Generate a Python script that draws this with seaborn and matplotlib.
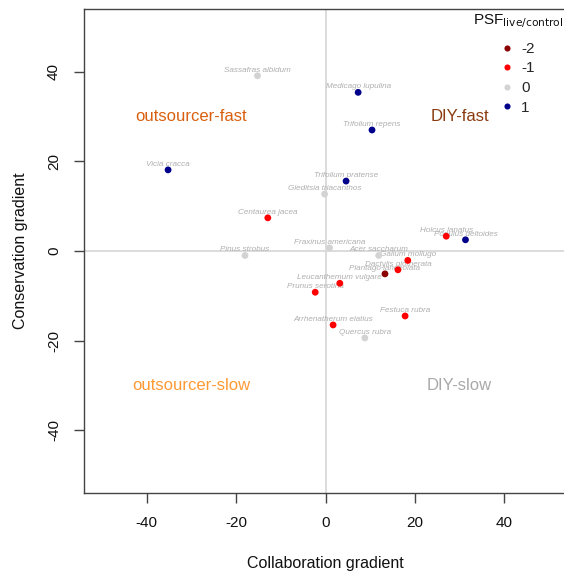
import matplotlib
matplotlib.use("Agg")
import matplotlib.pyplot as plt
import seaborn as sns
import pandas as pd

species = ["Sassafras albidum", "Medicago lupulina", "Trifolium repens", "Vicia cracca",
           "Trifolium pratense", "Gleditsia triacanthos", "Centaurea jacea", "Fraxinus americana",
           "Pinus strobus", "Holcus lanatus", "Populus deltoides", "Acer saccharum",
           "Galium mollugo", "Dactylis glomerata", "Plantago lanceolata", "Leucanthemum vulgare",
           "Prunus serotina", "Festuca rubra", "Arrhenatherum elatius", "Quercus rubra"]
collab = [-15.2, 7.3, 10.4, -35.2, 4.6, -0.2, -12.9, 0.9, -18.0, 27.0, 31.3, 11.9,
          18.4, 16.2, 13.3, 3.2, -2.3, 17.8, 1.7, 8.8]
conserv = [39.1, 35.4, 27.0, 18.1, 15.6, 12.7, 7.4, 0.7, -1.0, 3.3, 2.5, -1.0,
           -2.1, -4.2, -5.1, -7.2, -9.2, -14.5, -16.5, -19.4]
psf = ["0", "1", "1", "1", "1", "0", "-1", "0", "0", "-1", "1", "0",
       "-1", "-1", "-2", "-1", "-1", "-1", "-1", "0"]

psf_levels = ["-2", "-1", "0", "1"]
psf_colors = ["#8B0000", "#FF0000", "#D3D3D3", "#00008B"]

quad_labels = ["outsourcer-fast", "DIY-fast", "outsourcer-slow", "DIY-slow"]
quad_x = [-30, 30, -30, 30]
quad_y = [30, 30, -30, -30]
quad_colors = ["#D95F0E", "#8B3A0F", "#FF9933", "#A9A9A9"]

ticks = [-40, -20, 0, 20, 40]

sns.set_style("white")
plt.rcParams["font.family"] = ["Liberation Sans", "DejaVu Sans"]

df = pd.DataFrame({"species": species, "x": collab, "y": conserv, "psf": psf})

W, H = 564, 574
fig = plt.figure(figsize=(W / 100, H / 100), dpi=100)
ax = fig.add_axes([84 / W, 1 - 493 / H, 483 / W, 484 / H])

ax.axhline(0, color="#D9D9D9", lw=1.3, zorder=0)
ax.axvline(0, color="#D9D9D9", lw=1.3, zorder=0)

for name, x, y in zip(df["species"], df["x"], df["y"]):
    ax.annotate(name, (x, y), xytext=(0, 4), textcoords="offset points",
                ha="center", va="center", fontsize=5.9, style="italic",
                color="#AFAFAF", zorder=2)

sns.scatterplot(data=df, x="x", y="y", hue="psf", hue_order=psf_levels,
                palette=dict(zip(psf_levels, psf_colors)), s=24, linewidth=0,
                ax=ax, zorder=3, legend="full")

for t, x, y, c in zip(quad_labels, quad_x, quad_y, quad_colors):
    ax.text(x, y, t, ha="center", va="center", fontsize=12, color=c)

ax.set_xlim(-54, 54)
ax.set_ylim(-54, 54)
ax.set_xticks(ticks)
ax.set_yticks(ticks)
ax.set_xticklabels([str(t) for t in ticks])
ax.set_yticklabels([str(t) for t in ticks], rotation=90, va="center")
ax.tick_params(axis="both", direction="out", length=7, width=1, color="#444444",
               labelsize=11, pad=9.5, labelcolor="#111111", left=True, bottom=True)
for sp in ax.spines.values():
    sp.set_color("#444444")
    sp.set_linewidth(1)
ax.set_xlabel("Collaboration gradient", fontsize=11.5, labelpad=19, color="#111111")
ax.set_ylabel("Conservation gradient", fontsize=11.5, labelpad=14, color="#111111")

sns.move_legend(ax, "upper left", bbox_to_anchor=((499.5 - 84) / 483, (493 - 42) / 484),
                frameon=False, title=None, fontsize=11, labelspacing=0.36,
                handlelength=1.0, handletextpad=0.4, markerscale=0.9,
                borderaxespad=0, borderpad=0)

fig.text(473 / W, 1 - 21 / H, r"PSF$_{\mathrm{live/control}}$", ha="left", va="center",
         fontsize=11, color="#111111")

fig.savefig("out.png", dpi=100)
